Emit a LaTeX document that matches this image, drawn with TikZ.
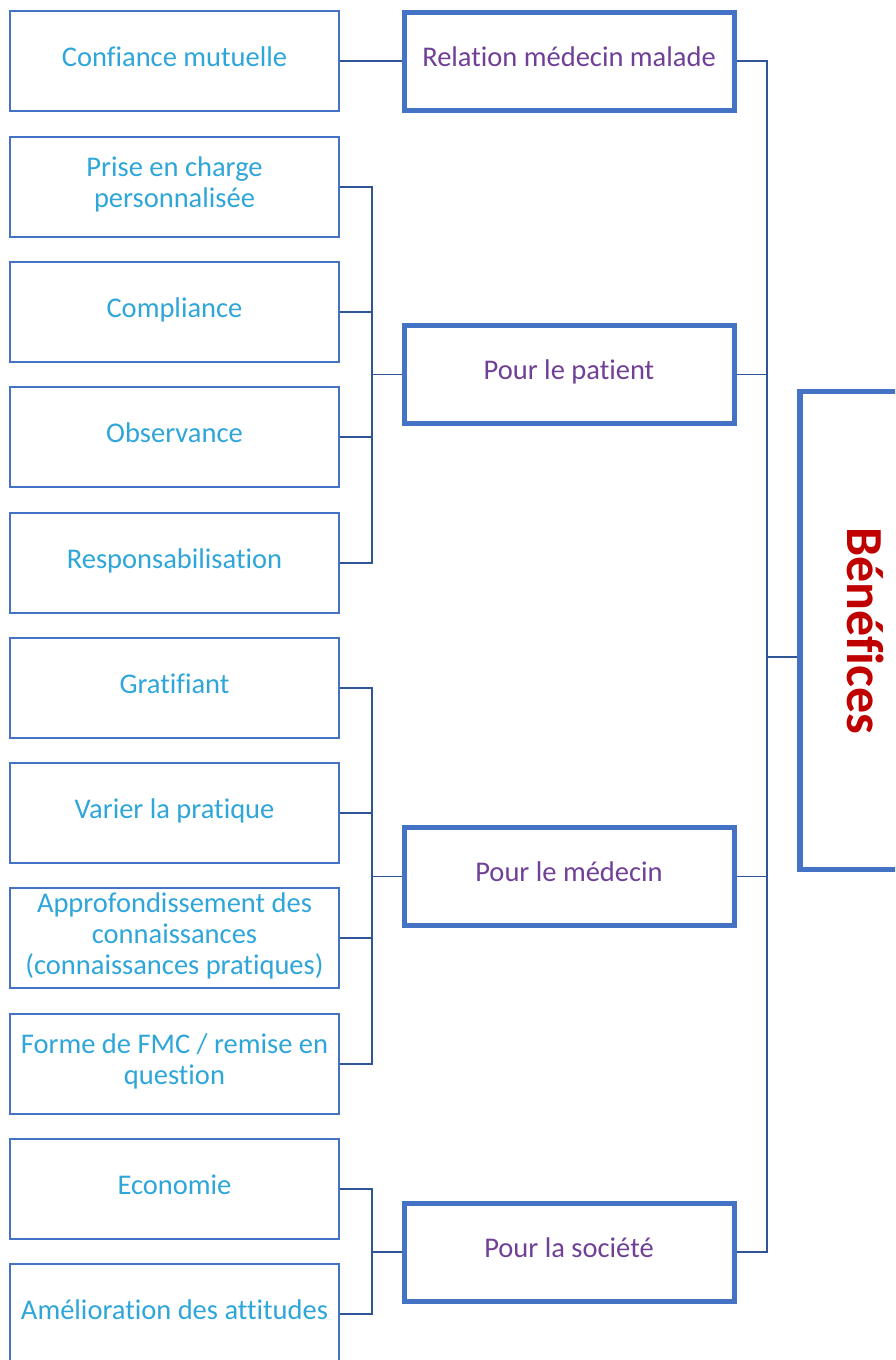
\documentclass[tikz,border=0pt]{standalone}
\usepackage{fontspec}
\setmainfont[Ligatures=NoCommon]{Carlito}
\usepackage{graphicx}

\tikzset{
  leaf/.style={draw={rgb, 255:red, 68; green, 114; blue, 196 }, line width=1.8pt, fill=white,
    text={rgb, 255:red, 46; green, 166; blue, 218 }, minimum width=329pt, minimum height=100pt,
    inner sep=1pt, text depth=9pt, align=center, font=\fontsize{28.5}{31}\selectfont},
  mid/.style={draw={rgb, 255:red, 68; green, 114; blue, 196 }, line width=5pt, fill=white,
    text={rgb, 255:red, 112; green, 64; blue, 150 }, minimum width=330pt, minimum height=98pt,
    inner sep=1pt, text depth=9pt, align=center, font=\fontsize{28.5}{31}\selectfont},
  top/.style={draw={rgb, 255:red, 68; green, 114; blue, 196 }, line width=5.5pt, fill=white,
    text={rgb, 255:red, 192; green, 0; blue, 0 }, minimum width=132pt, minimum height=478pt,
    inner sep=0pt, font=\bfseries\fontsize{52}{60}\selectfont},
  link/.style={draw={rgb, 255:red, 47; green, 85; blue, 151 }, line width=1.8pt}
}

\begin{document}
\begin{tikzpicture}[x=1pt,y=1pt,yscale=-1,xscale=1]
\clip (0,0) rectangle (895,1360);

\draw (174.5,61) node [leaf] (conf) {Confiance mutuelle};
\draw (174.5,187) node [leaf] (pris) {Prise en charge\\personnalisée};
\draw (174.5,312) node [leaf] (comp) {Compliance};
\draw (174.5,437) node [leaf] (obse) {Observance};
\draw (174.5,563) node [leaf] (resp) {Responsabilisation};
\draw (174.5,688) node [leaf] (grat) {Gratifiant};
\draw (174.5,813) node [leaf] (vari) {Varier la pratique};
\draw (174.5,938) node [leaf] (appr) {Approfondissement des\\connaissances\\(connaissances pratiques)};
\draw (174.5,1064) node [leaf] (form) {Forme de FMC / remise en\\question};
\draw (174.5,1189) node [leaf] (econ) {Economie};
\draw (174.5,1314) node [leaf] (amel) {Amélioration des attitudes};

\draw (569,61) node [mid] (rel) {Relation médecin malade};
\draw (569,374.5) node [mid] (pat) {Pour le patient};
\draw (569,876.5) node [mid] (med) {Pour le médecin};
\draw (569,1252) node [mid] (soc) {Pour la société};

\draw (866,630.5) node [top] (benef) {\rotatebox{-90}{Bénéfices}};

\coordinate (jpat) at (372,374.5);
\coordinate (jmed) at (372,876.5);
\coordinate (jsoc) at (372,1252);
\coordinate (jben) at (767,657);

\draw [link] (conf.east) -- (rel.west);
\foreach \n in {pris,comp,obse,resp}
  \draw [link] (\n.east) -| (jpat) -- (pat.west);
\foreach \n in {grat,vari,appr,form}
  \draw [link] (\n.east) -| (jmed) -- (med.west);
\foreach \n in {econ,amel}
  \draw [link] (\n.east) -| (jsoc) -- (soc.west);
\foreach \n in {rel,pat,med,soc}
  \draw [link] (\n.east) -| (jben) -- (benef.west |- jben);

\end{tikzpicture}
\end{document}
